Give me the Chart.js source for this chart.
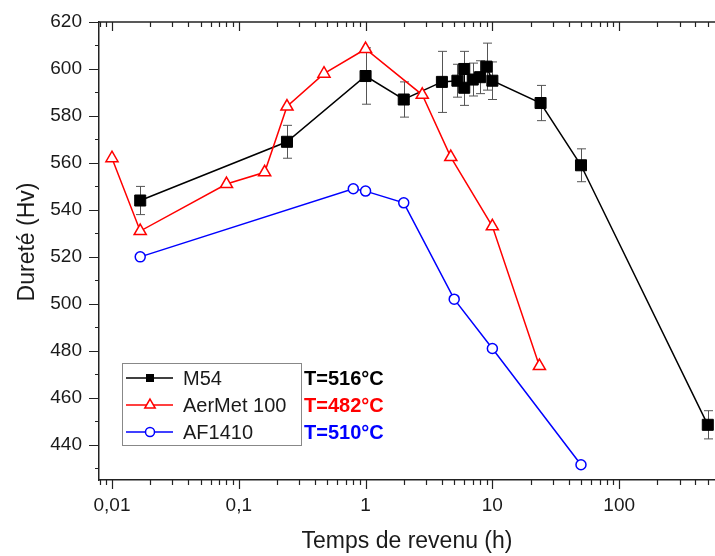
<!DOCTYPE html>
<html>
<head>
<meta charset="utf-8">
<script src="https://cdn.jsdelivr.net/npm/chart.js"></script>
<style>
  html, body { margin: 0; padding: 0; background: #fff; overflow: hidden; }
  canvas { display: block; }
</style>
</head>
<body>
<canvas id="chart" width="715" height="556"></canvas>
<script>
// temps de revenu (h) et dureté (Hv)
const m54Time = [0.0167, 0.24, 1, 2, 4, 5.3, 6, 6, 7, 8, 9, 10, 24, 50, 500];
const m54Hard = [544, 569, 597, 587, 594.5, 595, 600, 592, 595.5, 596.5, 601, 595, 585.5, 559, 448.5];
const m54Err  = [6, 7, 12, 7.5, 13, 7, 7.5, 7.5, 7, 7, 10, 8, 7.5, 7, 6];

const aerTime = [0.01, 0.0167, 0.08, 0.16, 0.24, 0.47, 1, 2.8, 4.7, 10, 23.5];
const aerHard = [562, 531, 551, 556, 584, 598, 608.5, 589, 562.5, 533, 473.5];

const afTime = [0.0167, 0.8, 1, 2, 5, 10, 50];
const afHard = [520, 549, 548, 543, 502, 481, 431.5];

const seriesNames = ["M54", "AerMet 100", "AF1410"];
const seriesTemps = ["T=516°C", "T=482°C", "T=510°C"];
const seriesColors = ["#000000", "#ff0000", "#0000ff"];

const xDecades = [0.01, 0.1, 1, 10, 100];
const xDecadeLabels = ["0,01", "0,1", "1", "10", "100"];
const yLabelValues = [440, 460, 480, 500, 520, 540, 560, 580, 600, 620];

const X_MIN = 0.0079, X_MAX = 570, Y_MIN = 425, Y_MAX = 620;
const FONT = "'Liberation Sans', Arial, sans-serif";

function pts(xs, ys) {
  return xs.map((x, i) => ({ x: x, y: ys[i] }));
}

// minor ticks 2..9 of each decade
const xTickValues = [];
for (let e = -3; e <= 3; e++) {
  for (let k = 1; k <= 9; k++) {
    const v = parseFloat((k * Math.pow(10, e)).toPrecision(6));
    if (v >= X_MIN && v <= X_MAX) xTickValues.push(v);
  }
}
const yTickValues = [];
for (let v = 430; v <= Y_MAX; v += 10) yTickValues.push(v);

function isDecade(v) {
  const l = Math.log10(v);
  return Math.abs(l - Math.round(l)) < 1e-6;
}

function noPad(s) {
  s.paddingLeft = s.paddingRight = s.paddingTop = s.paddingBottom = 0;
}

function marker(ctx, style, x, y, r, color) {
  ctx.save();
  ctx.lineWidth = 1.5;
  ctx.strokeStyle = color;
  ctx.beginPath();
  if (style === "rect") {
    ctx.fillStyle = color;
    ctx.rect(x - r, y - r, 2 * r, 2 * r);
    ctx.fill();
  } else if (style === "triangle") {
    ctx.fillStyle = "#fff";
    ctx.moveTo(x, y - r);
    ctx.lineTo(x + r * 0.866, y + r * 0.5);
    ctx.lineTo(x - r * 0.866, y + r * 0.5);
    ctx.closePath();
    ctx.fill();
    ctx.stroke();
  } else {
    ctx.fillStyle = "#fff";
    ctx.arc(x, y, r, 0, Math.PI * 2);
    ctx.fill();
    ctx.stroke();
  }
  ctx.restore();
}

const errorBars = {
  id: "errorBars",
  beforeDatasetsDraw(chart) {
    const ctx = chart.ctx;
    const xs = chart.scales.x, ys = chart.scales.y;
    ctx.save();
    ctx.strokeStyle = "#555";
    ctx.lineWidth = 1;
    m54Time.forEach((t, i) => {
      const px = Math.round(xs.getPixelForValue(t)) + 0.5;
      const top = ys.getPixelForValue(m54Hard[i] + m54Err[i]);
      const bot = ys.getPixelForValue(m54Hard[i] - m54Err[i]);
      ctx.beginPath();
      ctx.moveTo(px, top); ctx.lineTo(px, bot);
      ctx.moveTo(px - 4.5, top); ctx.lineTo(px + 4.5, top);
      ctx.moveTo(px - 4.5, bot); ctx.lineTo(px + 4.5, bot);
      ctx.stroke();
    });
    ctx.restore();
  }
};

const frame = {
  id: "frame",
  afterDraw(chart) {
    const ctx = chart.ctx;
    const a = chart.chartArea;
    const xs = chart.scales.x, ys = chart.scales.y;
    ctx.save();
    ctx.strokeStyle = "#222";
    ctx.lineWidth = 1.5;
    // top border
    ctx.beginPath();
    ctx.moveTo(a.left, a.top); ctx.lineTo(a.right, a.top);
    ctx.stroke();
    // x ticks: bottom outward, top inward
    ctx.lineWidth = 1.2;
    ctx.beginPath();
    xTickValues.forEach(v => {
      const px = Math.round(xs.getPixelForValue(v)) + 0.5;
      const len = isDecade(v) ? 9 : 5;
      ctx.moveTo(px, a.bottom); ctx.lineTo(px, a.bottom + len);
      ctx.moveTo(px, a.top); ctx.lineTo(px, a.top + len);
    });
    // y ticks outward
    yTickValues.forEach(v => {
      const py = Math.round(ys.getPixelForValue(v)) + 0.5;
      const len = yLabelValues.includes(v) ? 10 : 4;
      ctx.moveTo(a.left, py); ctx.lineTo(a.left - len, py);
    });
    ctx.stroke();

    // axis titles
    ctx.fillStyle = "#1a1a1a";
    ctx.font = "23px " + FONT;
    ctx.textAlign = "center";
    ctx.textBaseline = "middle";
    ctx.fillText("Temps de revenu (h)", (a.left + a.right) / 2, 542);
    ctx.save();
    ctx.translate(28, 242);
    ctx.rotate(-Math.PI / 2);
    ctx.fillText("Dureté (Hv)", 0, 0);
    ctx.restore();

    // legend
    ctx.strokeStyle = "#888";
    ctx.lineWidth = 1;
    ctx.strokeRect(122.5, 363.5, 179, 82);
    const styles = ["rect", "triangle", "circle"];
    const sizes = [4, 6, 4.5];
    const rows = [378, 405, 432];
    rows.forEach((ry, i) => {
      ctx.strokeStyle = seriesColors[i];
      ctx.lineWidth = 1.5;
      ctx.beginPath();
      ctx.moveTo(126, ry); ctx.lineTo(173, ry);
      ctx.stroke();
      marker(ctx, styles[i], 150, ry, sizes[i], seriesColors[i]);
      ctx.fillStyle = "#1a1a1a";
      ctx.textAlign = "left";
      ctx.font = "20px " + FONT;
      ctx.fillText(seriesNames[i], 183, ry + 1);
      ctx.fillStyle = seriesColors[i];
      ctx.font = "bold 20px " + FONT;
      ctx.fillText(seriesTemps[i], 304, ry + 1);
    });
    ctx.restore();
  }
};

new Chart(document.getElementById("chart"), {
  type: "line",
  data: {
    datasets: [
      {
        label: seriesNames[1],
        data: pts(aerTime, aerHard),
        borderColor: seriesColors[1],
        borderWidth: 1.5,
        pointStyle: "triangle",
        pointRadius: 7,
        pointBorderWidth: 1.5,
        pointBackgroundColor: "#fff",
        order: 0
      },
      {
        label: seriesNames[0],
        data: pts(m54Time, m54Hard),
        borderColor: seriesColors[0],
        backgroundColor: seriesColors[0],
        borderWidth: 1.5,
        pointStyle: "rect",
        pointRadius: 7.8,
        pointBorderWidth: 1,
        pointBackgroundColor: seriesColors[0],
        order: 1
      },
      {
        label: seriesNames[2],
        data: pts(afTime, afHard),
        borderColor: seriesColors[2],
        borderWidth: 1.5,
        pointStyle: "circle",
        pointRadius: 5,
        pointBorderWidth: 1.5,
        pointBackgroundColor: "#fff",
        order: 2
      }
    ]
  },
  options: {
    responsive: false,
    animation: false,
    devicePixelRatio: 1,
    parsing: false,
    layout: { autoPadding: false, padding: { top: 22, right: 0, left: 0, bottom: 0 } },
    plugins: { legend: { display: false }, tooltip: { enabled: false } },
    elements: { line: { tension: 0, fill: false } },
    scales: {
      x: {
        type: "logarithmic",
        min: X_MIN,
        max: X_MAX,
        grid: { display: false, drawTicks: false },
        border: { display: true, color: "#222", width: 1.5 },
        afterBuildTicks: s => { s.ticks = xTickValues.map(v => ({ value: v })); },
        afterFit: s => { s.height = 76; noPad(s); },
        ticks: {
          autoSkip: false,
          maxRotation: 0,
          padding: 14,
          color: "#1a1a1a",
          font: { family: FONT, size: 19 },
          callback: v => {
            const i = xDecades.findIndex(d => Math.abs(d - v) < d * 1e-6);
            return i >= 0 ? xDecadeLabels[i] : "";
          }
        }
      },
      y: {
        min: Y_MIN,
        max: Y_MAX,
        grid: { display: false, drawTicks: false },
        border: { display: true, color: "#222", width: 1.5 },
        afterBuildTicks: s => { s.ticks = yTickValues.map(v => ({ value: v })); },
        afterFit: s => { s.width = 99; noPad(s); },
        ticks: {
          autoSkip: false,
          padding: 17,
          color: "#1a1a1a",
          font: { family: FONT, size: 19 },
          callback: v => yLabelValues.includes(v) ? String(v) : ""
        }
      }
    }
  },
  plugins: [errorBars, frame]
});
</script>
</body>
</html>
